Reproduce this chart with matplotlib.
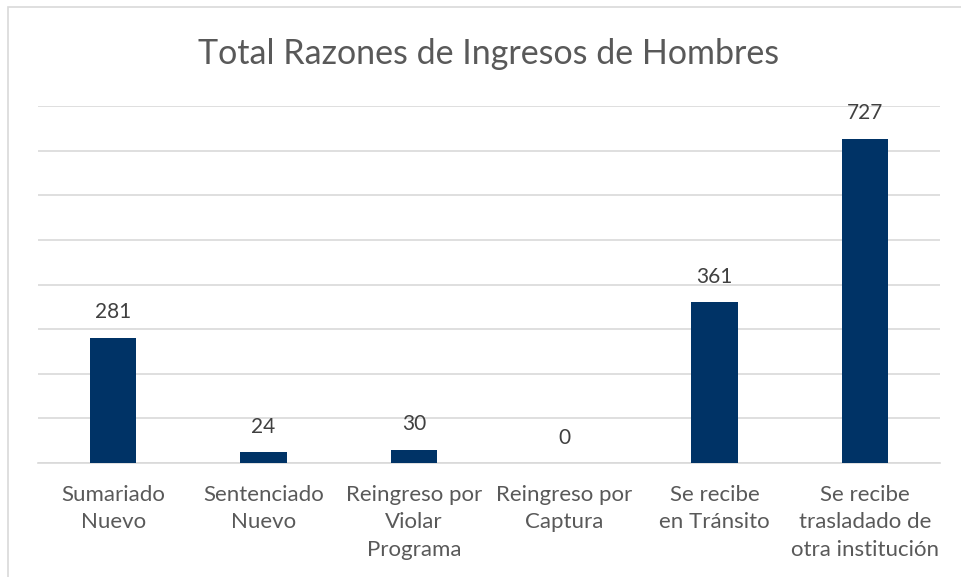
import matplotlib.pyplot as plt
from matplotlib.patches import Rectangle

plt.rcParams['font.family'] = ['Lato', 'DejaVu Sans']

# Data
categories = ['Sumariado\nNuevo', 'Sentenciado\nNuevo', 'Reingreso por\nViolar\nPrograma',
              'Reingreso por\nCaptura', 'Se recibe\nen Tránsito',
              'Se recibe\ntrasladado de\notra institución']
values = [281, 24, 30, 0, 361, 727]
yticks = [0, 100, 200, 300, 400, 500, 600, 700, 800]

fig = plt.figure(figsize=(9.61, 5.77), dpi=100)
ax = fig.add_axes([38 / 961, 1 - 463 / 577, 902 / 961, 357 / 577])

# Outer chart border (cropped at right and bottom)
fig.patches.append(Rectangle((8 / 961, -0.1), 1.2, 1 - 7 / 577 + 0.1,
                             transform=fig.transFigure, fill=False,
                             edgecolor='#d9d9d9', linewidth=1.2))

x = range(len(categories))
bars = ax.bar(x, values, width=0.31, color='#003366', zorder=3)

for xi, v in zip(x, values):
    ax.annotate(str(v), (xi, v), xytext=(0, 11), textcoords='offset points',
                ha='center', va='bottom', fontsize=15, color='#404040')

ax.set_xlim(-0.5, len(categories) - 0.5)
ax.set_ylim(0, 800)
ax.set_yticks(yticks)
ax.set_yticklabels([])
ax.tick_params(axis='y', length=0)
ax.set_xticks(list(x))
ax.set_xticklabels(categories, fontsize=16, color='#595959', linespacing=1.45)
ax.tick_params(axis='x', length=0, pad=16)
ax.grid(axis='y', color='#d9d9d9', linewidth=1.2, zorder=0)
for s in ['top', 'right', 'left']:
    ax.spines[s].set_visible(False)
ax.spines['bottom'].set_color('#d9d9d9')
ax.spines['bottom'].set_linewidth(1.2)

fig.text(489 / 961, 1 - 54 / 577, 'Total Razones de Ingresos de Hombres',
         ha='center', va='center', fontsize=24.5, color='#595959')

fig.savefig('out.png', dpi=100)
